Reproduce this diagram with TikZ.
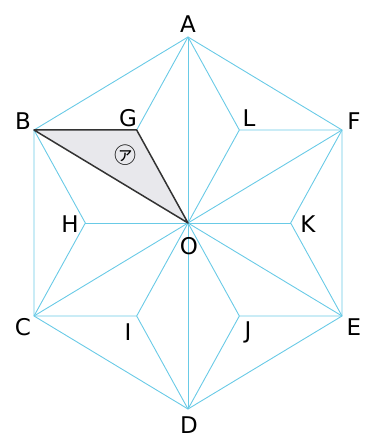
\documentclass[tikz,border=0pt]{standalone}
\usepackage{fontspec}
\setmainfont{DejaVu Sans}
\newfontfamily\cjk{Noto Sans CJK JP}
\usetikzlibrary{calc}
\definecolor{linecyan}{RGB}{105,202,230}
\definecolor{shadegray}{RGB}{232,232,236}

\begin{document}
\begin{tikzpicture}[x=1pt, y=-1pt]

\tikzset{
    guide/.style={draw=linecyan, line width=0.9pt},
    edge/.style={draw=black!80, line width=1.5pt, line join=round},
    lbl/.style={font=\fontsize{23}{23}\selectfont, inner sep=0pt},
}

\useasboundingbox (0,0) rectangle (367,438);

% --- Hexagon vertices and centre ---
\foreach \name/\x/\y in {A/188/37, B/34/130, C/34/316, D/188/409, E/342/316, F/342/130, O/188/223} {
    \coordinate (\name) at (\x,\y);
}

% --- Centroids of the six triangles round O ---
\foreach \p/\u/\v in {G/A/B, L/A/F, K/F/E, J/E/D, I/D/C, H/C/B} {
    \coordinate (\p) at ($(\u)!0.5!(\v)!1/3!(O)$);
}

% --- Shaded triangle ---
\fill[shadegray] (B) -- (G) -- (O) -- cycle;

% --- Hexagon and spokes ---
\draw[guide] (A) -- (B) -- (C) -- (D) -- (E) -- (F) -- cycle;
\draw[guide] (A) -- (D);
\draw[guide] (C) -- (O) -- (F);
\draw[guide] (E) -- (O);

% --- Centroids joined to their triangle corners ---
\draw[guide] (G) -- (A);
\foreach \p/\u/\v in {L/A/F, K/F/E, J/E/D, I/D/C, H/C/B} {
    \draw[guide] (\u) -- (\p) -- (\v);
    \draw[guide] (\p) -- (O);
}

% --- Outline of the shaded triangle ---
\draw[edge] (B) -- (G) -- (O) -- cycle;

% --- Labels ---
\foreach \name/\x/\y in {A/188/24, B/23/121, G/128/118, L/249/118, F/354/121,
    H/70/224, K/308/224, O/189/246, C/23/327, I/128/332, J/248/332, E/354/327, D/189/425} {
    \node[lbl] (l\name) at (\x,\y) {\name};
}
\node[font=\cjk\fontsize{22}{22}\selectfont, inner sep=0pt] (lTri) at (125,155) {㋐};

\end{tikzpicture}
\end{document}
